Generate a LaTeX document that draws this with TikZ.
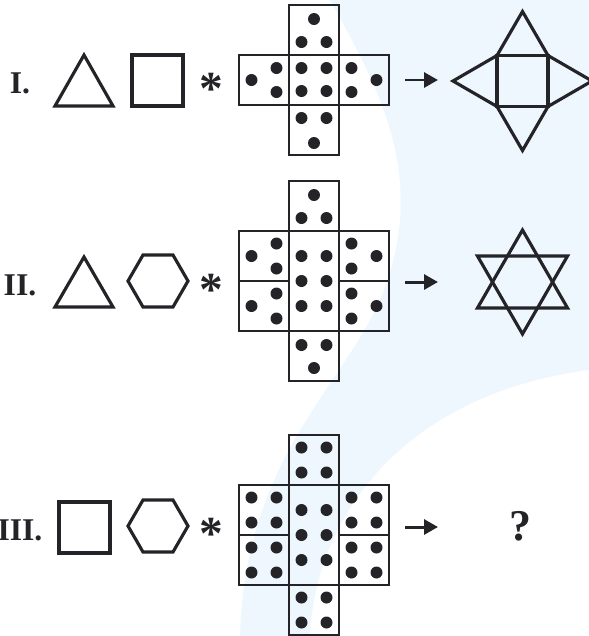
\documentclass[tikz,border=0pt]{standalone}
\usepackage{fontspec}
\setmainfont{Liberation Serif}
\usetikzlibrary{arrows.meta}
\definecolor{ink}{RGB}{36,36,40}
\definecolor{wmblue}{RGB}{239,247,254}
\tikzset{
  cellbox/.style={draw=ink,line width=1.35pt},
  pip/.style={fill=ink},
  figline/.style={draw=ink,line width=1.8pt,line join=miter},
  rowlabel/.style={font=\fontsize{18}{18}\selectfont\bfseries,text=ink,anchor=base,inner sep=0pt},
  starop/.style={font=\fontsize{27}{27}\selectfont\bfseries,text=ink,anchor=base,inner sep=0pt},
  maparrow/.style={draw=ink,line width=1.7pt,-{Triangle[length=0.28cm,width=0.3cm]}}
}
\begin{document}
\begin{tikzpicture}
\useasboundingbox (0,0) rectangle (11.78,-12.72);
\fill[wmblue] (6.6,0) .. controls (7.6,-1.8) and (8.6,-3.6) .. (7.6,-6)
  .. controls (6.8,-7.8) and (4.9,-9.2) .. (4.8,-12.72) -- (6.2,-12.72)
  .. controls (6.3,-10.4) and (8,-7.9) .. (11.78,-7.4) -- (11.78,0) -- cycle;

\foreach \nm/\txt/\yb in {I/I./-1.86,II/II./-5.9,III/III./-10.8}{
  \node[rowlabel] (lab\nm) at (0.4,\yb) {\txt};
}
\foreach \nm/\yc in {I/-1.6,II/-5.62,III/-10.5}{
  \node[starop] (op\nm) at (4.22,\yc-0.48) {*};
}

% left figures
\draw[figline] (1.1,-2.12) -- (1.68,-1.1) -- (2.26,-2.12) -- cycle;
\draw[figline] (2.64,-1.1) rectangle (3.66,-2.12);
\draw[figline] (1.1,-6.14) -- (1.68,-5.14) -- (2.26,-6.14) -- cycle;
\draw[figline] (1.18,-10.04) rectangle (2.2,-11.06);
\foreach \yc in {-5.62,-10.52}{
  \draw[figline,shift={(3.16,\yc)}] (0:0.6) -- (60:0.6) -- (120:0.6) -- (180:0.6) -- (240:0.6) -- (300:0.6) -- cycle;
}

% net I
\begin{scope}[shift={(4.78,-0.1)}]
  \foreach \x/\y in {1/0,0/1,1/1,2/1,1/2}{\draw[cellbox] (\x,-\y) rectangle ++(1,-1);}
  \foreach \x/\y in {1.5/0.28,1.25/0.74,1.75/0.74,1.25/1.26,1.75/1.26,1.25/1.72,1.75/1.72,
    0.25/1.5,0.75/1.26,0.75/1.74,2.25/1.26,2.25/1.74,2.75/1.5,1.25/2.26,1.75/2.26,1.5/2.76}{
    \fill[pip] (\x,-\y) circle (0.12);}
\end{scope}

% net II
\begin{scope}[shift={(4.78,-3.62)}]
  \foreach \x/\y/\h in {1/0/1,0/1/1,0/2/1,1/1/2,2/1/1,2/2/1,1/3/1}{\draw[cellbox] (\x,-\y) rectangle ++(1,-\h);}
  \foreach \x/\y in {1.5/0.28,1.25/0.74,1.75/0.74,0.25/1.5,0.75/1.25,0.75/1.75,0.25/2.5,0.75/2.25,0.75/2.75,
    2.25/1.25,2.25/1.75,2.75/1.5,2.25/2.25,2.25/2.75,2.75/2.5,1.25/3.28,1.75/3.28,1.5/3.74}{
    \fill[pip] (\x,-\y) circle (0.12);}
  \foreach \y in {1.5,2,2.5}{\foreach \x in {1.25,1.75}{\fill[pip] (\x,-\y) circle (0.12);}}
\end{scope}

% net III
\begin{scope}[shift={(4.78,-8.7)}]
  \foreach \x/\y/\h in {1/0/1,0/1/1,0/2/1,1/1/2,2/1/1,2/2/1,1/3/1}{\draw[cellbox] (\x,-\y) rectangle ++(1,-\h);}
  \foreach \cx/\cy in {1/0,0/1,0/2,2/1,2/2,1/3}{
    \foreach \dx/\dy in {0.25/0.25,0.75/0.25,0.25/0.75,0.75/0.75}{\fill[pip] (\cx+\dx,-\cy-\dy) circle (0.12);}}
  \foreach \y in {1.5,2,2.5}{\foreach \x in {1.25,1.75}{\fill[pip] (\x,-\y) circle (0.12);}}
\end{scope}

\foreach \nm/\yc in {I/-1.6,II/-5.64,III/-10.54}{
  \coordinate (from\nm) at (8.1,\yc);
  \coordinate (to\nm) at (8.76,\yc);
  \draw[maparrow] (from\nm) -- (to\nm);
}

% right figures
\draw[figline] (9.94,-1.11) rectangle (10.96,-2.13);
\draw[figline] (9.94,-1.11) -- (10.45,-0.23) -- (10.96,-1.11) -- (11.84,-1.62) -- (10.96,-2.13)
  -- (10.45,-3.01) -- (9.94,-2.13) -- (9.06,-1.62) -- cycle;
\begin{scope}[shift={(10.45,-5.64)}]
  \draw[figline] (90:1.04) -- (210:1.04) -- (330:1.04) -- cycle;
  \draw[figline] (270:1.04) -- (30:1.04) -- (150:1.04) -- cycle;
\end{scope}
\node[font=\fontsize{25}{25}\selectfont\bfseries,text=ink,anchor=base,inner sep=0pt] (unknown) at (10.4,-10.8) {?};
\end{tikzpicture}
\end{document}
